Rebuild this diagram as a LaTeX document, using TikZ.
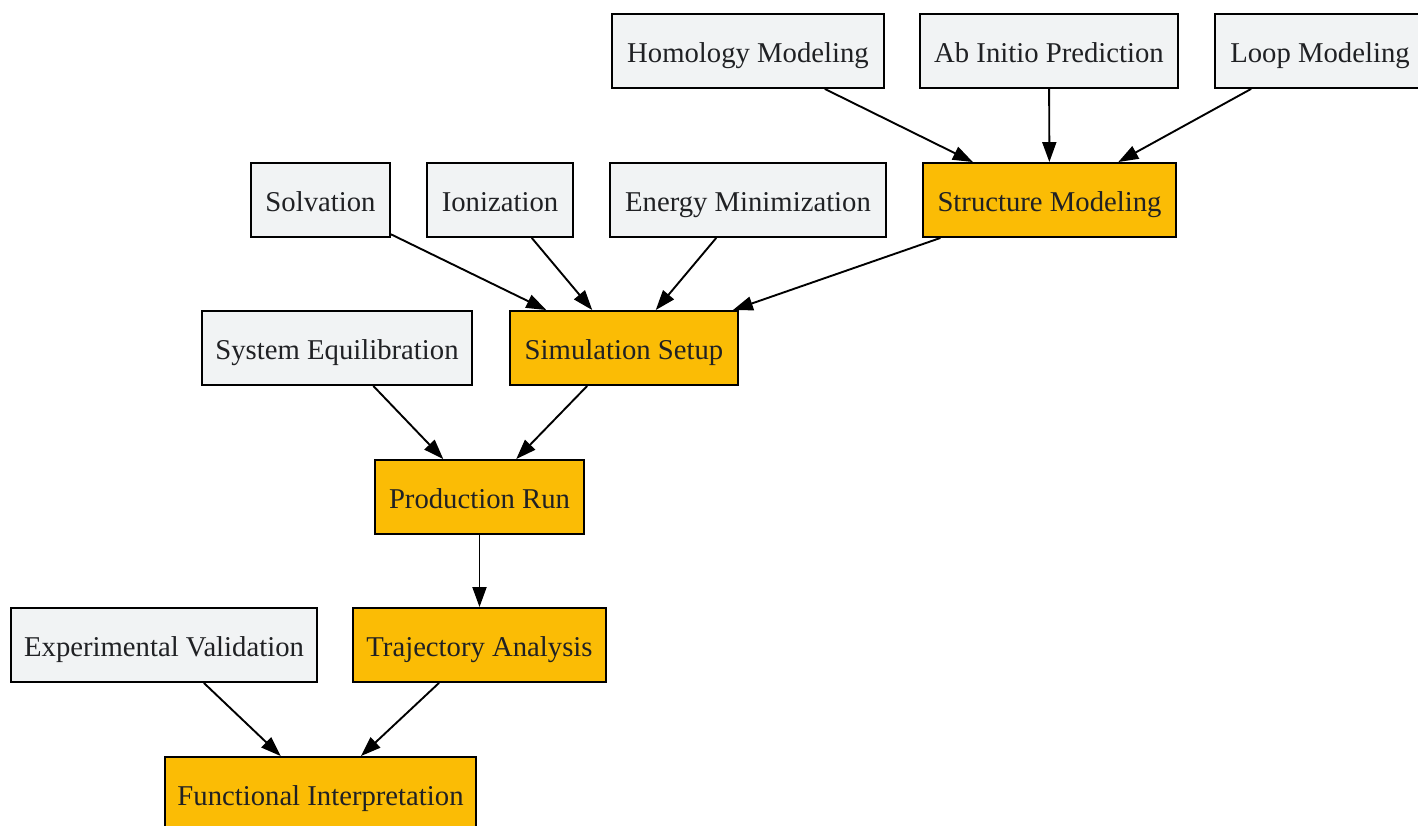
\documentclass[tikz,border=0pt]{standalone}
\usepackage{fontspec}
\setmainfont{Liberation Serif}
\usetikzlibrary{arrows.meta}
\definecolor{stagefill}{HTML}{FBBC05}
\definecolor{srcfill}{HTML}{F1F3F4}
\definecolor{labeltext}{HTML}{202124}

\begin{document}
\begin{tikzpicture}[x=1pt, y=-1pt, >={Triangle[length=20pt,width=14pt]}, line width=1.9pt,
    every node/.style={draw, text=labeltext, font=\fontsize{28.7}{34}\selectfont, minimum height=74pt,
      inner sep=0pt, text height=24pt, text depth=1pt},
    srcbox/.style={fill=srcfill}, stagebox/.style={fill=stagefill}]
    \useasboundingbox (0,0) rectangle (1418,826);
    % explicit-coordinate layout, one row per rank
    \node[srcbox, minimum width=272pt]   (homology)   at (748,51)    {Homology Modeling};
    \node[srcbox, minimum width=258pt]   (abinitio)   at (1049,51)   {Ab Initio Prediction};
    \node[srcbox, minimum width=210pt]   (loop)       at (1320,51)   {Loop Modeling};

    \node[srcbox, minimum width=139pt]   (solvation)  at (320.5,200) {Solvation};
    \node[srcbox, minimum width=146pt]   (ionization) at (500,200)   {Ionization};
    \node[srcbox, minimum width=276pt]   (energymin)  at (748,200)   {Energy Minimization};
    \node[stagebox, minimum width=253pt] (structure)  at (1049.5,200) {Structure Modeling};

    \node[srcbox, minimum width=270pt]   (sysequil)   at (337,348)   {System Equilibration};
    \node[stagebox, minimum width=228pt] (setup)      at (624,348)   {Simulation Setup};

    \node[stagebox, minimum width=209pt] (production) at (479.5,497) {Production Run};

    \node[srcbox, minimum width=306pt]   (expval)     at (164,645)   {Experimental Validation};
    \node[stagebox, minimum width=253pt] (trajectory) at (479.5,645) {Trajectory Analysis};

    \node[stagebox, minimum width=311pt] (functional) at (320.5,794) {Functional Interpretation};

    % Connections (straight, centre to centre)
    \draw[->] (homology) -- (structure);
    \draw[->] (abinitio) -- (structure);
    \draw[->] (loop) -- (structure);

    \draw[->] (solvation) -- (setup);
    \draw[->] (ionization) -- (setup);
    \draw[->] (energymin) -- (setup);
    \draw[->] (structure) -- (setup);

    \draw[->] (sysequil) -- (production);
    \draw[->] (setup) -- (production);
    \draw[->] (production) -- (trajectory);

    \draw[->] (expval) -- (functional);
    \draw[->] (trajectory) -- (functional);
  \end{tikzpicture}
\end{document}
